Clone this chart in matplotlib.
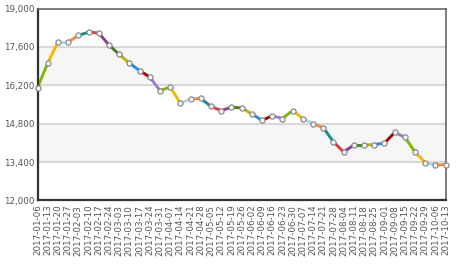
import numpy as np
import pandas as pd
import matplotlib
matplotlib.use("Agg")
import matplotlib.pyplot as plt

# weekly dates and values
dates = pd.date_range("2017-01-06", "2017-10-13", freq="7D").strftime("%Y-%m-%d").tolist()
values = [16120, 17010, 17780, 17780, 18020, 18140, 18110, 17670, 17330, 17010,
          16740, 16500, 16010, 16140, 15550, 15700, 15720, 15430, 15280, 15400,
          15380, 15160, 14920, 15090, 14990, 15280, 14990, 14800, 14660, 14140,
          13770, 14020, 14020, 14040, 14090, 14480, 14310, 13770, 13380, 13290,
          13310]

seg_colors = ["#7fb800", "#f5b800", "#a8d8f0", "#f58b3a", "#138f84", "#e03c3c",
              "#8e3a96", "#4f7f1a", "#b8b400", "#1f8fdc", "#a30000", "#9a7fc4"]

yticks = [12000, 13400, 14800, 16200, 17600, 19000]

fig = plt.figure(figsize=(4.58, 2.68), dpi=100)
ax = fig.add_axes([0.082, 0.252, 0.891, 0.716])

x = np.arange(len(values))

# alternating bands
ax.axhspan(16200, 17600, color="#f6f6f6", zorder=0)
ax.axhspan(13400, 14800, color="#f6f6f6", zorder=0)
for t in yticks[1:-1]:
    ax.axhline(t, color="#d9d9d9", lw=1.5, zorder=1)

for i in range(len(values) - 1):
    ax.plot(x[i:i + 2], values[i:i + 2], color=seg_colors[i % len(seg_colors)],
            lw=2.1, solid_capstyle="butt", zorder=2, clip_on=False)
ax.plot(x, values, ls="none", marker="o", ms=3.7, mfc="white", mec="#888888",
        mew=0.9, zorder=3, clip_on=False)

ax.set_xlim(0, len(values) - 1)
ax.set_ylim(12000, 19000)
ax.set_yticks(yticks)
ax.set_yticklabels([f"{t:,}" for t in yticks])
ax.set_xticks(x)
ax.set_xticklabels(dates, rotation=90)
ax.tick_params(axis="both", length=0, labelsize=6.3, labelcolor="#555555")
ax.tick_params(axis="y", pad=2)
ax.tick_params(axis="x", pad=3)

for s in ["left", "bottom"]:
    ax.spines[s].set_color("#333333")
    ax.spines[s].set_linewidth(1.6)
for s in ["top", "right"]:
    ax.spines[s].set_color("#666666")
    ax.spines[s].set_linewidth(1.2)

fig.savefig("out.png", dpi=100)
